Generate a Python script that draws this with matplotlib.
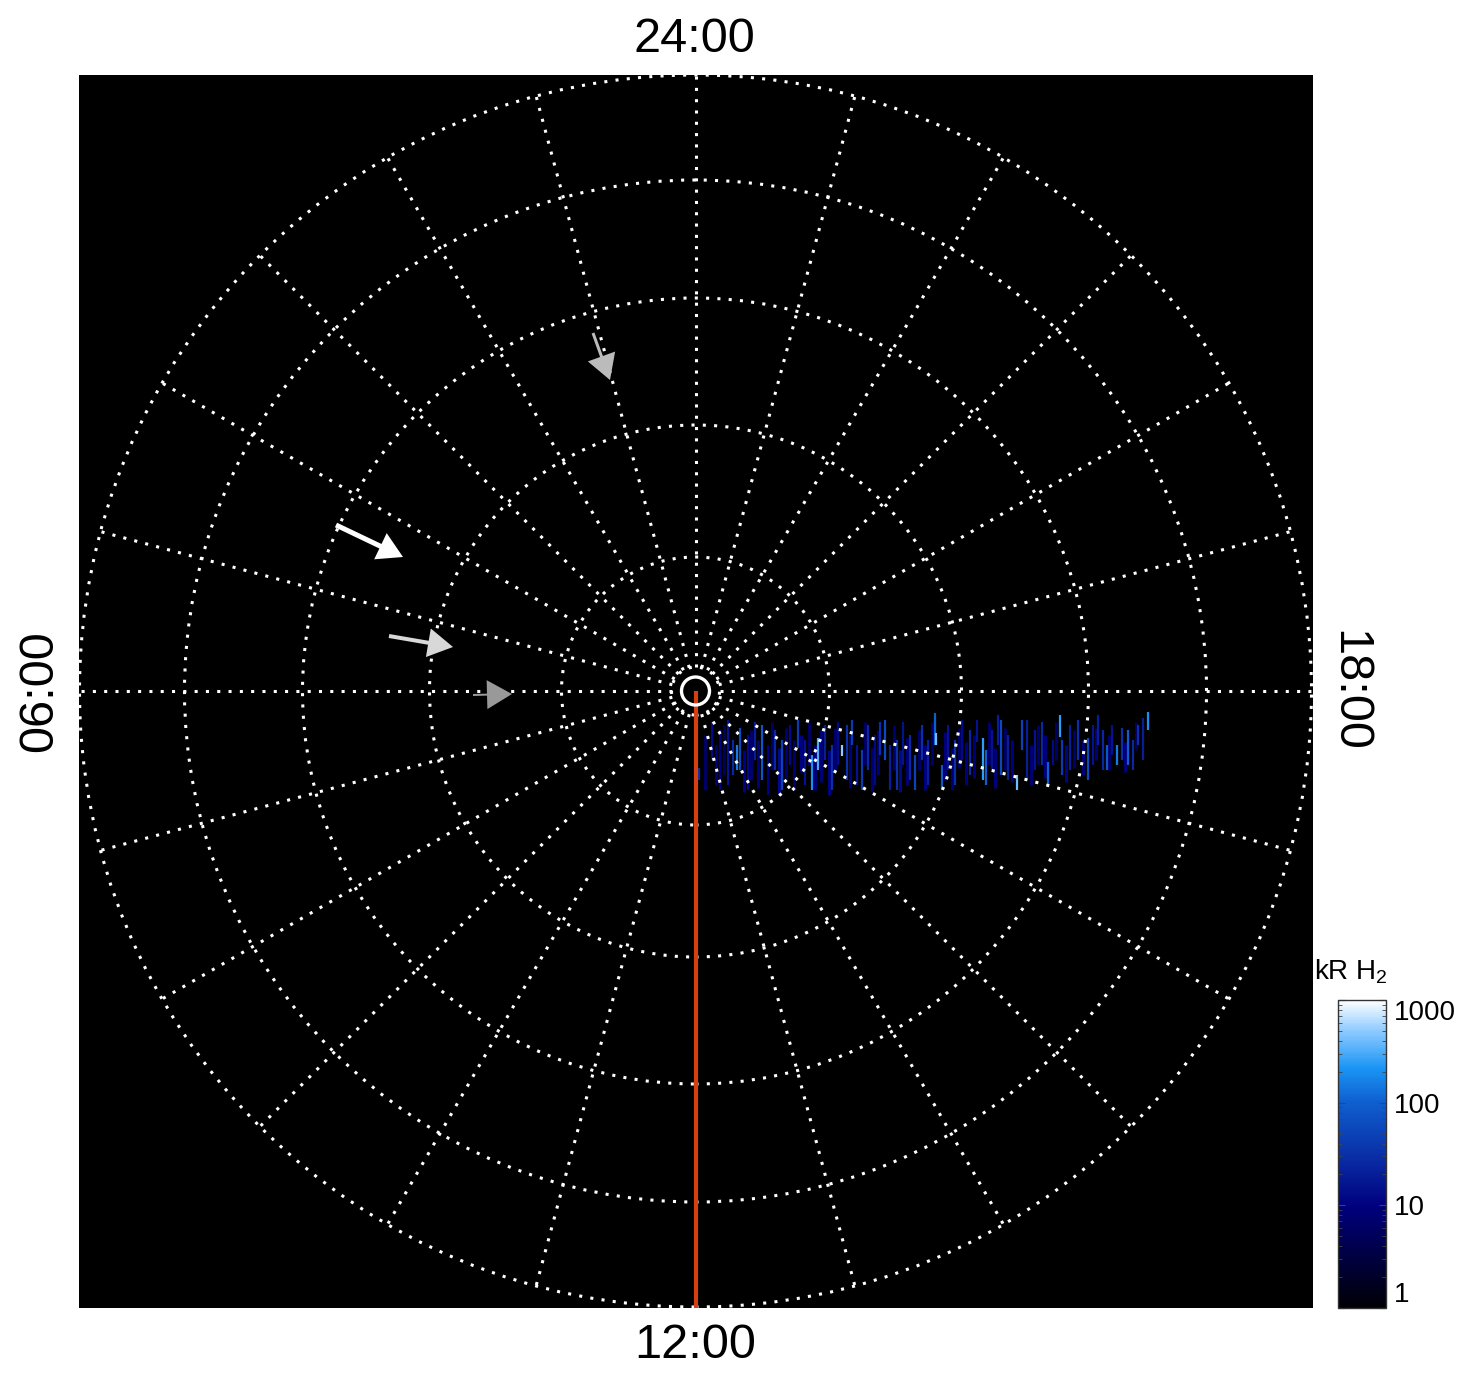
import numpy as np
import matplotlib
matplotlib.use("Agg")
import matplotlib.pyplot as plt
from matplotlib.colors import LinearSegmentedColormap, LogNorm
from matplotlib.patches import Circle
from matplotlib.cm import ScalarMappable

plt.rcParams['font.family'] = ['Liberation Sans', 'DejaVu Sans']
plt.rcParams['mathtext.fontset'] = 'custom'
plt.rcParams['mathtext.rm'] = 'Liberation Sans'

# ---------------- data ----------------
# grid rings (projected radius, outer ring = 616)
ring_radius = [134, 266, 393, 511, 616]
inner_dotted_ring = 24
center_ring = 14
hour_lines = list(range(24))            # one meridian per hour of local time
lt_labels = ["24:00", "06:00", "12:00", "18:00"]

# auroral emission streaks: x position, top, bottom (projected plane), brightness (kR)
streak_x = [699, 712, 720, 728, 733, 737, 740, 748, 755, 762, 768, 775, 782, 790, 798,
            805, 812, 818, 825, 832, 838, 842, 847, 852, 857, 862, 868, 875, 880, 885,
            890, 897, 903, 910, 915, 922, 928, 935, 936, 942, 948, 955, 962, 970, 977,
            983, 986, 992, 998, 1001, 1008, 1017, 1022, 1027, 1035, 1042, 1048, 1053,
            1060, 1062, 1070, 1078, 1088, 1093, 1098, 1103, 1107, 1112, 1117, 1122,
            1128, 1133, 1138, 1143, 1148]
streak_top = [768, 722, 730, 720, 740, 745, 728, 735, 722, 725, 745, 730, 740, 725, 720,
              740, 755, 738, 725, 745, 722, 745, 725, 720, 745, 750, 725, 735, 722, 720,
              745, 740, 722, 735, 755, 725, 740, 713, 733, 765, 725, 740, 720, 730, 720,
              738, 750, 730, 715, 720, 735, 775, 720, 720, 730, 722, 762, 740,
              715, 740, 725, 720, 738, 725, 715, 730, 745, 725, 745, 728,
              730, 740, 725, 718, 712]
streak_bot = [780, 760, 790, 785, 775, 770, 770, 790, 760, 780, 795, 770, 790, 765, 748,
              785, 790, 770, 760, 790, 765, 756, 780, 745, 785, 790, 770, 785, 755, 760,
              790, 790, 765, 780, 790, 760, 785, 745, 745, 790, 770, 785, 760, 775, 742,
              780, 785, 770, 745, 775, 780, 790, 750, 780, 770, 765, 785, 765,
              737, 775, 770, 760, 780, 765, 745, 770, 770, 755, 765, 760,
              765, 770, 745, 760, 730]
streak_kR = [30, 12, 10, 15, 25, 150, 60, 12, 20, 80, 10, 25, 50, 12, 40,
             15, 200, 300, 20, 30, 12, 500, 30, 40, 15, 40, 25, 12, 30, 60,
             20, 30, 15, 25, 50, 30, 20, 100, 400, 80, 15, 30, 12, 25, 15,
             250, 100, 15, 20, 60, 20, 400, 50, 20, 15, 25, 100, 12,
             250, 40, 20, 30, 60, 15, 20, 25, 80, 15, 150, 30,
             100, 25, 30, 20, 200]

# fainter background streaks filling the oval
faint_x = [705, 716, 724, 744, 751, 758, 772, 779, 786, 794, 801, 809, 815, 821, 829,
           835, 850, 865, 872, 878, 894, 900, 907, 919, 925, 932, 945, 952, 959, 966,
           974, 989, 995, 1005, 1012, 1031, 1038, 1045, 1056, 1066, 1074, 1083, 1096,
           1109, 1125, 1136]
faint_top = [735, 745, 725, 750, 730, 740, 722, 748, 728, 740, 735, 722, 745, 730, 750,
             728, 735, 722, 748, 730, 725, 750, 738, 730, 745, 722, 732, 748, 728, 742,
             735, 722, 748, 728, 740, 745, 725, 735, 722, 745, 730, 740, 728,
             735, 742, 722]
faint_bot = [790, 785, 775, 792, 780, 788, 770, 795, 778, 790, 772, 765, 790, 782, 795,
             770, 788, 765, 792, 775, 770, 792, 785, 770, 790, 765, 780, 790, 768, 785,
             778, 765, 788, 770, 782, 785, 765, 778, 760, 782, 768, 775, 760,
             770, 772, 750]
faint_kR = [6, 8, 5, 10, 7, 9, 6, 12, 8, 7, 10, 6, 9, 8, 11,
            7, 10, 6, 8, 9, 7, 12, 8, 6, 10, 7, 9, 8, 6, 10,
            8, 7, 9, 6, 10, 8, 7, 9, 6, 11, 7, 8, 9,
            7, 10, 6]

# arrows: tail and tip (projected plane), colour
arrow_tail = [(336, 525), (389, 636), (473, 695), (593, 333)]
arrow_tip = [(403, 557), (453, 647), (512, 694), (610, 380)]
arrow_color = ["#ffffff", "#d8d8d8", "#999999", "#bbbbbb"]
arrow_shaft = [5, 4, 2, 3]

cbar_ticks = [1, 10, 100, 1000]

# ---------------- figure ----------------
W, H = 1480, 1384
fig = plt.figure(figsize=(W / 100, H / 100), dpi=100)
cx, cy = 695.5, 691.0

def tx(px):
    return px - cx

def ty(py):
    return cy - py

ax = fig.add_axes([79 / W, (H - 1308) / H, 1234 / W, 1233 / H])
ax.set_facecolor("black")
ax.set_xlim(tx(79), tx(1313))
ax.set_ylim(ty(1308), ty(75))
ax.set_xticks([])
ax.set_yticks([])
for s in ax.spines.values():
    s.set_visible(False)

cmap = LinearSegmentedColormap.from_list(
    "aur", [(0.0, "#000005"), (0.33, "#00007e"), (0.5, "#0a30a8"),
            (0.67, "#0f5fd0"), (0.78, "#1a95f5"), (0.9, "#8ccaff"), (1.0, "#ffffff")])
norm = LogNorm(1, 1000)

# emission
ax.vlines([tx(x) for x in faint_x], [ty(b) for b in faint_bot],
          [ty(t) for t in faint_top], colors=[cmap(norm(v)) for v in faint_kR],
          linewidth=2.2, zorder=1)
ax.vlines([tx(x) for x in streak_x], [ty(b) for b in streak_bot],
          [ty(t) for t in streak_top], colors=[cmap(norm(v)) for v in streak_kR],
          linewidth=1.6, zorder=2)

dots = (0, (1, 2.7))
lw = 2.2
for r in ring_radius + [inner_dotted_ring]:
    ax.add_patch(Circle((0, 0), r, fill=False, edgecolor="white", lw=lw,
                        linestyle=dots, zorder=3))
for h in hour_lines:
    phi = np.deg2rad(90 + 15 * h)
    ax.plot([inner_dotted_ring * np.cos(phi), ring_radius[-1] * np.cos(phi)],
            [inner_dotted_ring * np.sin(phi), ring_radius[-1] * np.sin(phi)],
            color="white", lw=lw, linestyle=dots, zorder=3)

# red meridian toward 12:00
ax.plot([0, 0], [0, ty(1308)], color="#d4400f", lw=3.0, zorder=4,
        solid_capstyle="butt")
ax.add_patch(Circle((0, 0), center_ring, fill=False, edgecolor="white", lw=2.4, zorder=5))

# arrows
for (t, p, c, sw) in zip(arrow_tail, arrow_tip, arrow_color, arrow_shaft):
    x0, y0 = tx(t[0]), ty(t[1])
    dx, dy = tx(p[0]) - x0, ty(p[1]) - y0
    ax.arrow(x0, y0, dx, dy, width=sw, head_width=29, head_length=25,
             length_includes_head=True, color=c, ec="none", zorder=6)

# local time labels
fs = 35
fig.text(694 / W, 1 - 40 / H, lt_labels[0], ha="center", va="center", fontsize=fs)
fig.text(695 / W, 1 - 1346 / H, lt_labels[2], ha="center", va="center", fontsize=fs)
fig.text(40 / W, 1 - 691 / H, lt_labels[1], ha="center", va="center", fontsize=fs,
         rotation=90)
fig.text(1349 / W, 1 - 691 / H, lt_labels[3], ha="center", va="center", fontsize=fs,
         rotation=270)

# colorbar
cax = fig.add_axes([1338 / W, (H - 1308) / H, 48 / W, 308 / H])
sm = ScalarMappable(norm=norm, cmap=cmap)
cb = fig.colorbar(sm, cax=cax, ticks=cbar_ticks)
cb.ax.set_yticklabels([str(t) for t in cbar_ticks])
cb.outline.set_edgecolor("#333333")
cb.outline.set_linewidth(1.0)
cax.tick_params(which="both", direction="in", left=True, right=True, color="#444444",
                labelsize=20, pad=6)
cax.tick_params(which="major", length=5)
cax.tick_params(which="minor", length=3)
labs = cax.get_yticklabels()
labs[0].set_va("bottom")
labs[-1].set_va("top")
fig.text(1314 / W, 1 - 972 / H, "kR H$_2$", ha="left", va="center", fontsize=20)

fig.savefig("out.png", dpi=100, facecolor="white")
